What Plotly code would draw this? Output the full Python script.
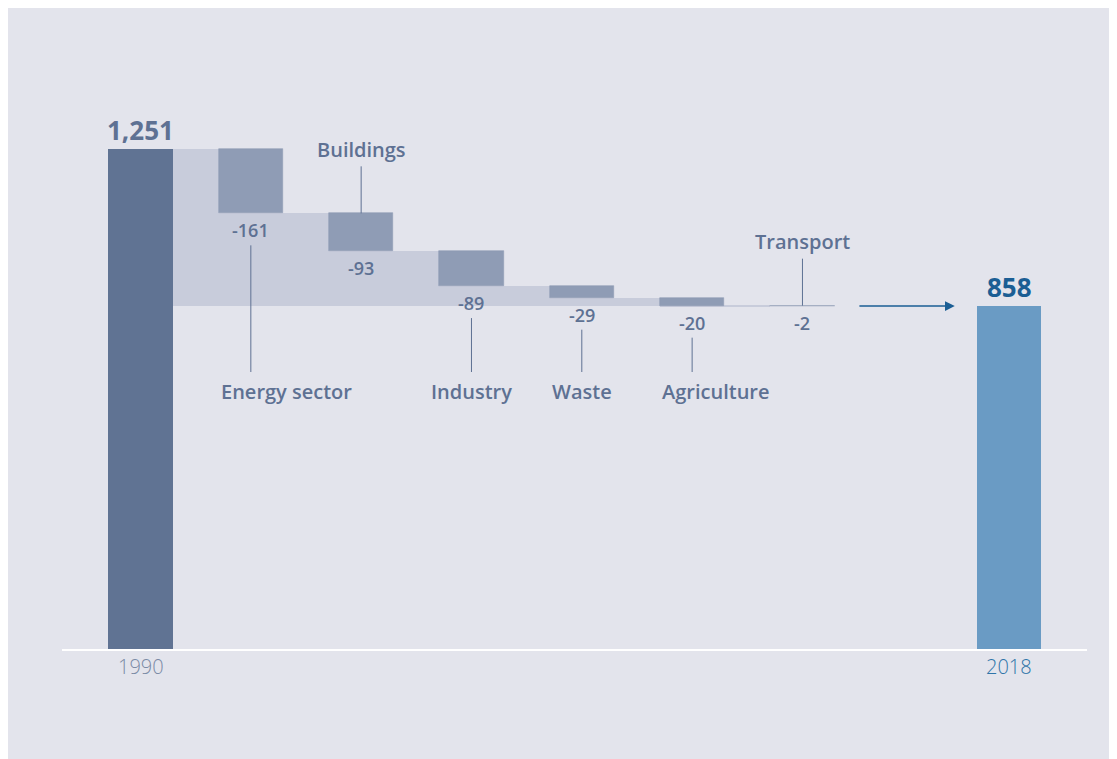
import plotly.graph_objects as go

# ---------------- data ----------------
start_label = "1990"
end_label = "2018"
start_value = 1251
end_value = 858
sectors = ["Energy sector", "Buildings", "Industry", "Waste", "Agriculture", "Transport"]
changes = [-161, -93, -89, -29, -20, -2]

# ---------------- layout / style ----------------
W, H = 1102, 751
ML, MR, MT, MB = 54, 23, 60, 110
Y_MAX = 1453.6
X_RANGE = [-0.7115, 8.579]
plot_h = H - MT - MB
ppu = plot_h / Y_MAX          # pixels per data unit


def px(d):
    """convert a pixel distance into data units"""
    return d / ppu


BG = "#e3e4ec"
C_START = "#607393"
C_END = "#6a9bc4"
C_BOX = "#8f9cb5"
C_BAND = "#c8ccdb"
C_TEXT = "#5e7193"
C_DARK = "#1b5e94"
C_YEAR1 = "#7b8ba6"
C_YEAR2 = "#2f75a9"
FONT = "Open Sans"
BW = 0.585

placement = ["below", "above", "below", "below", "below", "above"]
name_anchor = ["left", "center", "center", "center", "left", "center"]

x_start = 0
x_sect = [i + 1 for i in range(len(sectors))]
x_end = len(sectors) + 1.873

before, after = [], []
lvl = start_value
for c in changes:
    before.append(lvl)
    lvl = lvl + c
    after.append(lvl)

fig = go.Figure()

# light band connecting the steps
band_x = [x_start] + x_sect[:-1]
band_h = [start_value - end_value] + [a - end_value for a in after[:-1]]
band_w = [1 - BW] + [1] * (len(sectors) - 1)
band_off = [BW / 2] + [-BW / 2] * (len(sectors) - 1)
fig.add_trace(go.Bar(x=band_x, y=band_h, base=[end_value] * len(band_x),
                     width=band_w, offset=band_off,
                     marker=dict(color=C_BAND, line=dict(width=0)),
                     hoverinfo="skip", showlegend=False))

# decrement boxes
fig.add_trace(go.Bar(x=x_sect, y=[-c for c in changes], base=after,
                     width=BW, offset=-BW / 2,
                     marker=dict(color=C_BOX, line=dict(width=0.6, color=C_BOX)),
                     hoverinfo="skip", showlegend=False))

# start / end totals
fig.add_trace(go.Bar(x=[x_start], y=[start_value], width=BW, offset=-BW / 2,
                     marker=dict(color=C_START, line=dict(width=0)),
                     hoverinfo="skip", showlegend=False))
fig.add_trace(go.Bar(x=[x_end], y=[end_value], width=BW, offset=-BW / 2,
                     marker=dict(color=C_END, line=dict(width=0)),
                     hoverinfo="skip", showlegend=False))

ann = []
# totals
ann.append(dict(x=x_start, y=start_value, text=f"{start_value:,}", yshift=19,
                font=dict(size=26, color=C_TEXT, family=FONT, weight=700)))
ann.append(dict(x=x_end, y=end_value, text=f"{end_value:,}", yshift=19,
                font=dict(size=26, color=C_DARK, family=FONT, weight=700)))

# years
ann.append(dict(x=x_start, y=0, text=start_label, yshift=-17,
                font=dict(size=20, color=C_YEAR1, family=FONT, weight=300)))
ann.append(dict(x=x_end, y=0, text=end_label, yshift=-17,
                font=dict(size=20, color=C_YEAR2, family=FONT, weight=300)))

shapes = []
name_y = px(258)
line_bottom = px(277)
for i, (s, c) in enumerate(zip(sectors, changes)):
    x = x_sect[i]
    ann.append(dict(x=x, y=after[i], text=f"{c}", yshift=-17,
                    font=dict(size=18, color=C_TEXT, family=FONT, weight=600)))
    if placement[i] == "below":
        xa = x - BW / 2 if name_anchor[i] == "left" else x
        ann.append(dict(x=xa, y=name_y, text=s, xanchor=name_anchor[i],
                        font=dict(size=20, color=C_TEXT, family=FONT, weight=600)))
        shapes.append(dict(type="line", x0=x, x1=x, y0=after[i] - px(32), y1=line_bottom,
                           line=dict(color=C_TEXT, width=1)))
    else:
        ann.append(dict(x=x, y=before[i] + px(64), text=s,
                        font=dict(size=20, color=C_TEXT, family=FONT, weight=600)))
        shapes.append(dict(type="line", x0=x, x1=x, y0=before[i] + px(47), y1=before[i],
                           line=dict(color=C_TEXT, width=1)))

for a in ann:
    a.setdefault("showarrow", False)
    a.setdefault("xanchor", "center")
    a.setdefault("yanchor", "middle")
    a["xref"] = "x"
    a["yref"] = "y"

# arrow to final bar
ann.append(dict(x=x_end - BW / 2 - 0.2, y=end_value, ax=x_sect[-1] + BW / 2 + 0.21, ay=end_value,
                xref="x", yref="y", axref="x", ayref="y", text="", showarrow=True,
                arrowhead=2, arrowsize=1.3, arrowwidth=1.5, arrowcolor=C_DARK))

fig.update_layout(
    width=W, height=H,
    margin=dict(l=ML, r=MR, t=MT, b=MB),
    paper_bgcolor=BG, plot_bgcolor=BG,
    barmode="overlay", bargap=0,
    annotations=ann, shapes=shapes,
    xaxis=dict(range=X_RANGE, showgrid=False, zeroline=False, showticklabels=False,
               showline=True, linecolor="white", linewidth=2, ticks=""),
    yaxis=dict(range=[0, Y_MAX], showgrid=False, zeroline=False, showticklabels=False,
               showline=False, ticks=""),
    font=dict(family=FONT, color=C_TEXT),
)

fig.write_html("out.html")
